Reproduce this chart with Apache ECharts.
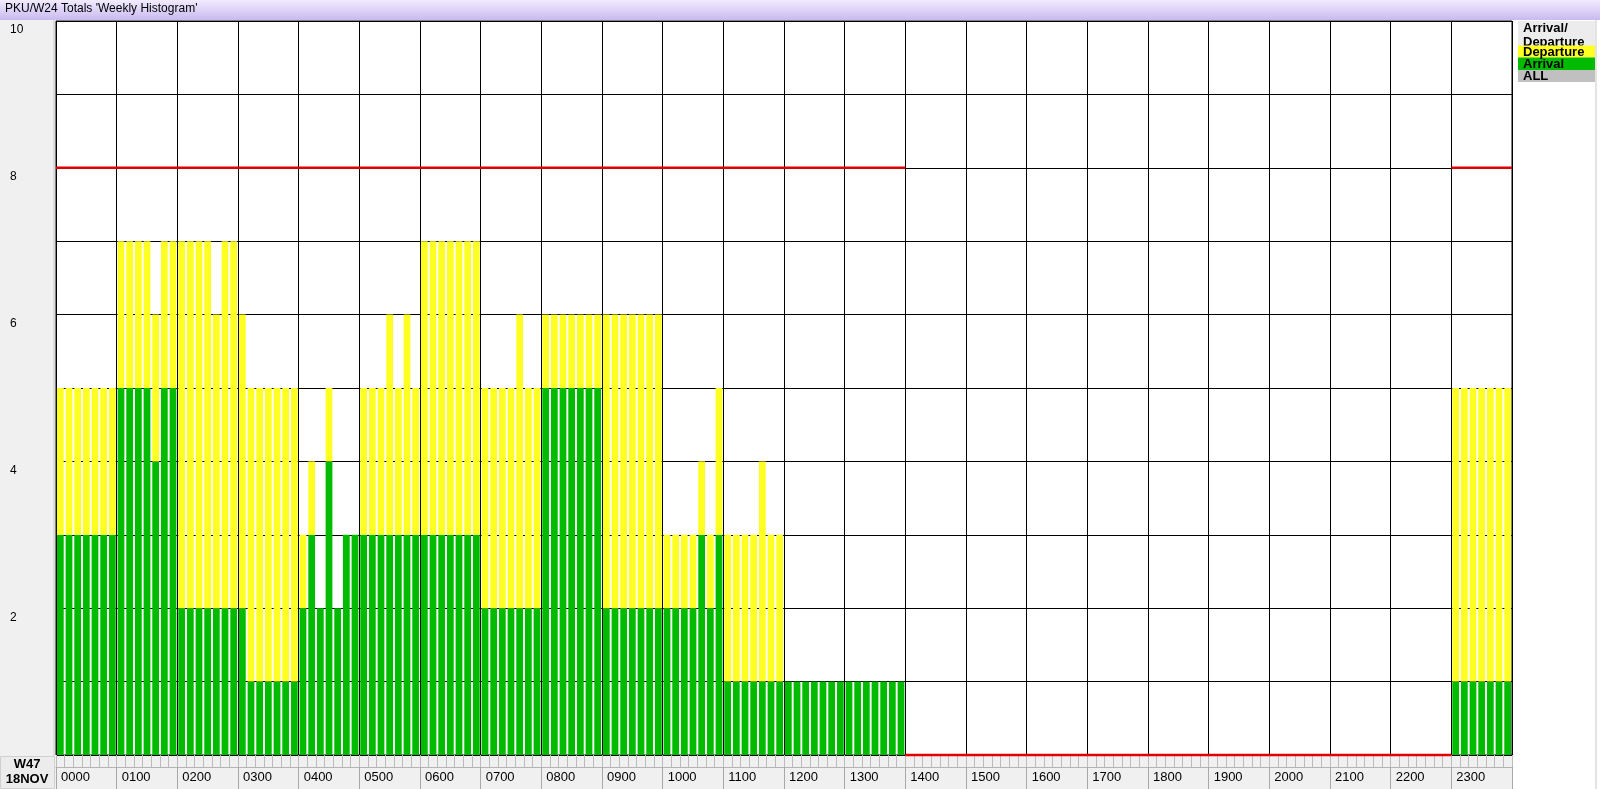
<!DOCTYPE html>
<html><head><meta charset="utf-8">
<script src="https://cdn.jsdelivr.net/npm/echarts@6/dist/echarts.min.js"></script>
<style>html,body{margin:0;padding:0;background:#fff}#c{width:1600px;height:789px}</style>
</head><body><div id="c"></div>
<script>
// ---- data ----
const hourLabels = ['0000','0100','0200','0300','0400','0500','0600','0700','0800','0900','1000','1100',
  '1200','1300','1400','1500','1600','1700','1800','1900','2000','2100','2200','2300'];
const arrivalByHour = [
  [3,3,3,3,3,3,3], [5,5,5,5,4,5,5], [2,2,2,2,2,2,2], [2,1,1,1,1,1,1],
  [2,3,2,4,2,3,3], [3,3,3,3,3,3,3], [3,3,3,3,3,3,3], [2,2,2,2,2,2,2],
  [5,5,5,5,5,5,5], [2,2,2,2,2,2,2], [2,2,2,2,3,2,3], [1,1,1,1,1,1,1],
  [1,1,1,1,1,1,1], [1,1,1,1,1,1,1], [0,0,0,0,0,0,0], [0,0,0,0,0,0,0],
  [0,0,0,0,0,0,0], [0,0,0,0,0,0,0], [0,0,0,0,0,0,0], [0,0,0,0,0,0,0],
  [0,0,0,0,0,0,0], [0,0,0,0,0,0,0], [0,0,0,0,0,0,0], [1,1,1,1,1,1,1]
];
const departureByHour = [
  [2,2,2,2,2,2,2], [2,2,2,2,2,2,2], [5,5,5,5,4,5,5], [4,4,4,4,4,4,4],
  [1,1,0,1,0,0,0], [2,2,2,3,2,3,2], [4,4,4,4,4,4,4], [3,3,3,3,4,3,3],
  [1,1,1,1,1,1,1], [4,4,4,4,4,4,4], [1,1,1,1,1,1,2], [2,2,2,2,3,2,2],
  [0,0,0,0,0,0,0], [0,0,0,0,0,0,0], [0,0,0,0,0,0,0], [0,0,0,0,0,0,0],
  [0,0,0,0,0,0,0], [0,0,0,0,0,0,0], [0,0,0,0,0,0,0], [0,0,0,0,0,0,0],
  [0,0,0,0,0,0,0], [0,0,0,0,0,0,0], [0,0,0,0,0,0,0], [4,4,4,4,4,4,4]
];
const capacityByHour = [8,8,8,8,8,8,8,8,8,8,8,8,8,8,0,0,0,0,0,0,0,0,0,8];
const yLabelValues = [2,4,6,8,10];
const titleText = "PKU/W24 Totals 'Weekly Histogram'";
const weekText = ['W47','18NOV'];
const legendItems = [
  {name:'Departure', color:'#ffff22'},
  {name:'Arrival', color:'#00bb00'},
  {name:'ALL', color:'#c0c0c0'}
];

// ---- derived ----
const categories = [], arrival = [], departure = [];
hourLabels.forEach((h, i) => {
  for (let d = 0; d < 7; d++) {
    categories.push(h + '-' + d);
    arrival.push(arrivalByHour[i][d]);
    departure.push(departureByHour[i][d]);
  }
});
const hourAxis = hourLabels.concat(['']);
const capData = [];
capacityByHour.forEach((c, i) => {
  if (i > 0 && c !== capacityByHour[i-1]) capData.push([i, '-']);
  capData.push([i, c], [i+1, c]);
});

const FONT = 'Liberation Sans, Arial, sans-serif';
const chart = echarts.init(document.getElementById('c'), null, {renderer:'canvas'});

const graphics = [
  // title bar
  {type:'rect', z:-5, shape:{x:0,y:0,width:1600,height:20},
   style:{fill:new echarts.graphic.LinearGradient(0,0,0,1,[{offset:0,color:'#f1ecfd'},{offset:1,color:'#c9b9f0'}])}},
  {type:'text', z:50, left:5, top:3, style:{text:titleText, font:'12px ' + FONT, fill:'#000'}},
  // left column
  {type:'rect', z:-5, shape:{x:0,y:20,width:55,height:736}, style:{fill:'#f0f0f0'}},
  {type:'rect', z:-4, shape:{x:53,y:20,width:2,height:736}, style:{fill:'#dcdcdc'}},
  // bottom strip
  {type:'rect', z:-5, shape:{x:0,y:756,width:1513,height:33}, style:{fill:'#f0f0f0'}},
  {type:'rect', z:-4, shape:{x:0.5,y:756.5,width:54,height:32}, style:{fill:'#ececec', stroke:'#d0d0d0', lineWidth:1}},
  {type:'text', z:50, x:27, y:764, style:{text:weekText[0], font:'bold 13px ' + FONT, fill:'#000', textAlign:'center', textVerticalAlign:'middle'}},
  {type:'text', z:50, x:27, y:779, style:{text:weekText[1], font:'bold 13px ' + FONT, fill:'#000', textAlign:'center', textVerticalAlign:'middle'}},
  // right edge
  {type:'rect', z:-4, shape:{x:1595,y:20,width:2,height:769}, style:{fill:'#e4e4e4'}},
  // legend header
  {type:'rect', z:1, shape:{x:1518,y:21,width:77,height:25}, style:{fill:'#ececec'}},
  {type:'text', z:2, left:1523, top:22, style:{text:'Arrival/', font:'bold 13px ' + FONT, fill:'#000'}},
  {type:'text', z:2, left:1523, top:36, style:{text:'Departure', font:'bold 13px ' + FONT, fill:'#000'}}
];
legendItems.forEach((it, k) => {
  const y0 = [45.5, 57.5, 70][k], h = [12, 12.5, 12][k];
  graphics.push({type:'rect', z:3, shape:{x:1518,y:y0,width:77,height:h}, style:{fill:it.color}});
  graphics.push({type:'text', z:4, x:1523, y:y0 + h/2 + 0.5, style:{text:it.name, font:'bold 13px ' + FONT, fill:'#000', textVerticalAlign:'middle'}});
});

chart.setOption({
  animation:false,
  backgroundColor:'#ffffff',
  textStyle:{fontFamily:FONT},
  grid:{left:56, right:88, top:21, bottom:34, containLabel:false, show:true, borderColor:'#000', borderWidth:1, backgroundColor:'transparent'},
  xAxis:[
    {type:'category', data:categories, boundaryGap:true,
     axisLine:{show:false},
     axisTick:{show:true, interval:0, length:12, lineStyle:{color:'#bcbcbc'}},
     axisLabel:{show:false},
     splitLine:{show:true, interval:(i) => i % 7 === 0, lineStyle:{color:'#000', width:1}}},
    {type:'category', data:hourAxis, boundaryGap:false, position:'bottom', offset:12,
     axisLine:{show:true, lineStyle:{color:'#b4b4b4'}},
     axisTick:{show:true, interval:0, length:22, lineStyle:{color:'#a8a8a8'}},
     axisLabel:{show:true, interval:0, align:'left', padding:[0,0,0,5], margin:4, fontSize:13, color:'#000', fontFamily:FONT},
     splitLine:{show:false}},
    {type:'value', min:0, max:24, show:false}
  ],
  yAxis:{type:'value', min:0, max:10, interval:1,
    axisLine:{show:false}, axisTick:{show:false},
    splitLine:{show:true, lineStyle:{color:'#000', width:1}},
    axisLabel:{margin:46, align:'left', verticalAlign:'top', padding:[3,0,0,0], fontSize:12, color:'#000', fontFamily:FONT,
      formatter:(v) => yLabelValues.includes(v) ? String(v) : ''}},
  graphic:graphics,
  series:[
    {name:'Arrival', type:'bar', stack:'ad', xAxisIndex:0, data:arrival, barCategoryGap:'22%',
     itemStyle:{color:'#00bb00'}, silent:true},
    {name:'Departure', type:'bar', stack:'ad', xAxisIndex:0, data:departure, barCategoryGap:'22%',
     itemStyle:{color:'#ffff22'}, silent:true},
    {name:'Capacity', type:'line', xAxisIndex:2, data:capData, symbol:'none', connectNulls:false, clip:false, z:10,
     lineStyle:{color:'#e00000', width:2.5}, silent:true}
  ]
});
</script></body></html>
